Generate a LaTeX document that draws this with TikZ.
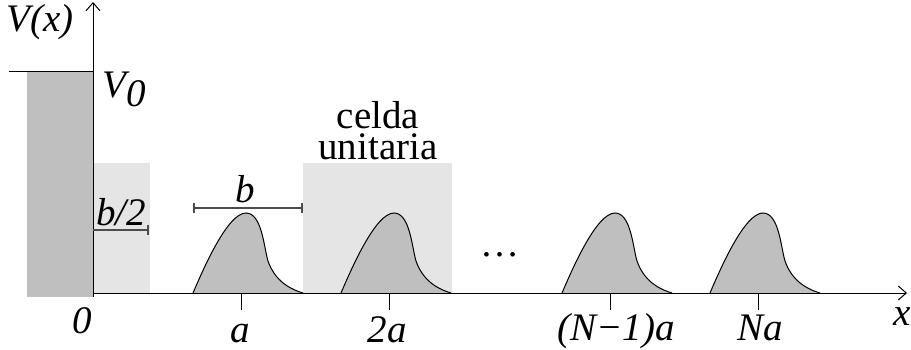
\documentclass[tikz,border=0pt]{standalone}
\usepackage{fontspec}
\setmainfont{Liberation Serif}
\usetikzlibrary{positioning}
\usetikzlibrary{arrows.meta}

\begin{document}
\begin{tikzpicture}[x=0.5pt,y=0.5pt,
  lbl/.style={font=\fontsize{19.5}{14}\selectfont\itshape,inner sep=0pt,anchor=base},
  txt/.style={font=\fontsize{19.5}{15.5}\selectfont,inner sep=0pt,anchor=base},
  axis/.style={black,line width=0.5pt},
  bump/.style={fill=black!25,draw=black,line width=0.5pt},
  span/.style={black!70,line width=0.8pt}]
\useasboundingbox (0,0) rectangle (911,349);
% wall and cells
\fill[black!25] (27,52) rectangle (93,278);
\fill[black!10] (93,56) rectangle (150,186);
\fill[black!10] (303,56) rectangle (452,186);
\draw[axis] (9,278) -- (93,278);
% bumps
\foreach \p in {241,389,610,758}{
  \draw[bump] (\p-48,56) .. controls (\p-36,84) and (\p-13,136) .. (\p+5,136)
    .. controls (\p+21,136) and (\p+23,101) .. (\p+27,88)
    .. controls (\p+33,71) and (\p+45,61) .. (\p+62,56);
  \draw[axis] (\p,56) -- (\p,39);
}
% axes
\draw[axis,-{Straight Barb[length=4pt,width=7pt]}] (93,52) -- (93,347);
\draw[axis,-{Straight Barb[length=4pt,width=7pt]}] (93,56) -- (907,56);
% widths
\draw[span,{Bar[width=5pt]}-{Bar[width=5pt]}] (193,141) -- (303,141);
\draw[span,-{Bar[width=5pt]}] (93,119) -- (149,119);

\node[lbl] (vx) at (40,317) {V(x)};
\node[lbl,anchor=base west] (v0) at (102,252) {V\raisebox{-5pt}{0}};
\node[lbl] (bhalf) at (121,124) {b/2};
\node[lbl] (bw) at (245,147) {b};
\node[txt,align=center] (cell) at (378,190) {celda\\unitaria};
\node[txt] (dots) at (500,93) {…};

\node[lbl] (zero) at (82,16) {0};
\node[lbl] (ta) at (240,7) {a};
\node[lbl] (t2a) at (387,7) {2a};
\node[lbl] (tn1a) at (616,9) {(N−1)a};
\node[lbl] (tna) at (760,9) {Na};
\node[lbl] (xl) at (902,24) {x};
\end{tikzpicture}
\end{document}
